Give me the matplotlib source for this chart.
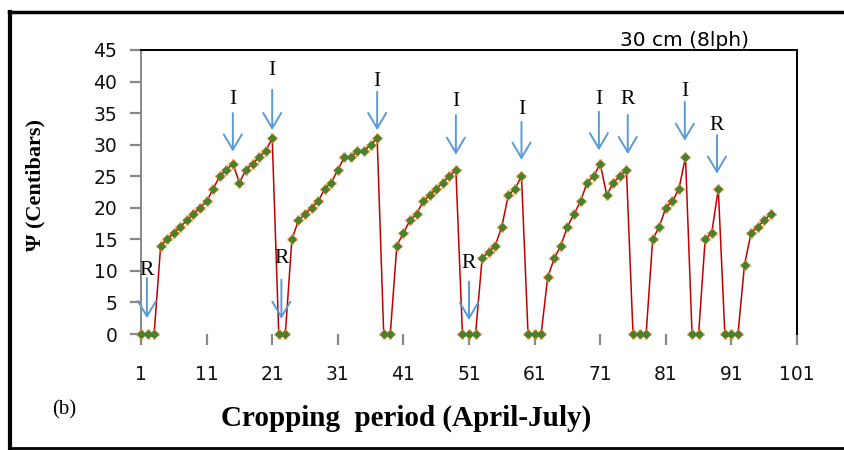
import matplotlib
matplotlib.use("Agg")
import matplotlib.pyplot as plt
from matplotlib.lines import Line2D

# cropping period day and soil water tension (centibars)
days = list(range(1, 98))
tension = [0, 0, 0, 14, 15, 16, 17, 18, 19, 20,
           21, 23, 25, 26, 27, 24, 26, 27, 28, 29,
           31, 0, 0, 15, 18, 19, 20, 21, 23, 24,
           26, 28, 28, 29, 29, 30, 31, 0, 0, 14,
           16, 18, 19, 21, 22, 23, 24, 25, 26, 0,
           0, 0, 12, 13, 14, 17, 22, 23, 25, 0,
           0, 0, 9, 12, 14, 17, 19, 21, 24, 25,
           27, 22, 24, 25, 26, 0, 0, 0, 15, 17,
           20, 21, 23, 28, 0, 0, 15, 16, 23, 0,
           0, 0, 11, 16, 17, 18, 19]

# event markers: I = irrigation, R = rain
event_x = [1.9, 15, 21, 22.4, 37, 49, 51, 59, 70.8, 75.2, 83.9, 88.8]
event_label = ["R", "I", "I", "R", "I", "I", "R", "I", "I", "R", "I", "R"]
event_text_y = [10.1, 37.1, 41.8, 12.0, 40.0, 36.8, 11.2, 35.5, 37.1, 37.1, 38.4, 33.1]
event_top_y = [8.9, 35.0, 38.7, 8.6, 38.4, 34.7, 8.3, 33.6, 35.2, 34.7, 36.8, 31.5]
event_tip_y = [2.5, 28.9, 32.3, 2.4, 32.3, 28.4, 2.2, 27.6, 29.1, 28.5, 30.6, 25.4]

xticks = list(range(1, 102, 10))
yticks = list(range(0, 46, 5))

fig = plt.figure(figsize=(8.45, 4.5), dpi=100)
ax = fig.add_axes([141/845, 1 - 334/450, (797 - 141)/845, (334 - 50)/450])

ax.plot(days, tension, color="#C00000", lw=1.1, zorder=3, clip_on=False)
ax.plot(days, tension, ls="none", marker="+", ms=7.5, mew=2, mec="#E8821E",
        zorder=4, clip_on=False)
ax.plot(days, tension, ls="none", marker="o", ms=4.3, mfc="#4E7F2A", mec="#4E7F2A",
        zorder=5, clip_on=False)

for x, s, ty, top, tip in zip(event_x, event_label, event_text_y, event_top_y, event_tip_y):
    ax.annotate("", xy=(x, tip), xytext=(x, top),
                arrowprops=dict(arrowstyle="->,head_length=1.1,head_width=0.65",
                                color="#5B9BD5", lw=1.4, mutation_scale=10,
                                shrinkA=0, shrinkB=0), zorder=6)
    ax.text(x, ty, s, ha="center", va="center", fontsize=15.5,
            family="Liberation Serif", zorder=6)

ax.set_xlim(1, 101)
ax.set_ylim(0, 45)
ax.set_xticks(xticks)
ax.set_yticks(yticks)
ax.tick_params(axis="both", direction="out", color="#888888", width=1.6, length=8,
               labelsize=13.5, labelcolor="#111111")
ax.tick_params(axis="x", pad=14)
ax.tick_params(axis="y", pad=9)

ax.spines["bottom"].set_visible(False)
ax.spines["left"].set_color("#888888")
ax.spines["left"].set_linewidth(1.4)
ax.spines["top"].set_color("black")
ax.spines["top"].set_linewidth(1.4)
ax.spines["right"].set_color("black")
ax.spines["right"].set_linewidth(1.4)

fig.text(35/845, 1 - 185/450, "\u03a8 (Centibars)", rotation=90, ha="center", va="center",
         fontsize=16, fontweight="bold", family="Liberation Serif")
fig.text(406/845, 1 - 418/450, "Cropping  period (April-July)", ha="center", va="center",
         fontsize=21, fontweight="bold", family="Liberation Serif")
fig.text(64/845, 1 - 410/450, "(b)", ha="center", va="center", fontsize=15,
         family="Liberation Serif")
fig.text(685/845, 1 - 41/450, "30 cm (8lph)", ha="center", va="center", fontsize=14.5,
         family="DejaVu Sans")

# outer frame (left, top, bottom)
fig.add_artist(Line2D([10.5/845, 10.5/845], [1 - 448/450, 1 - 11.5/450],
                      transform=fig.transFigure, color="black", lw=3))
fig.add_artist(Line2D([9/845, 1.0], [1 - 11.5/450, 1 - 11.5/450],
                      transform=fig.transFigure, color="black", lw=2.5))
fig.add_artist(Line2D([9/845, 1.0], [1 - 447.5/450, 1 - 447.5/450],
                      transform=fig.transFigure, color="black", lw=2))

fig.savefig("out.png", dpi=100)
